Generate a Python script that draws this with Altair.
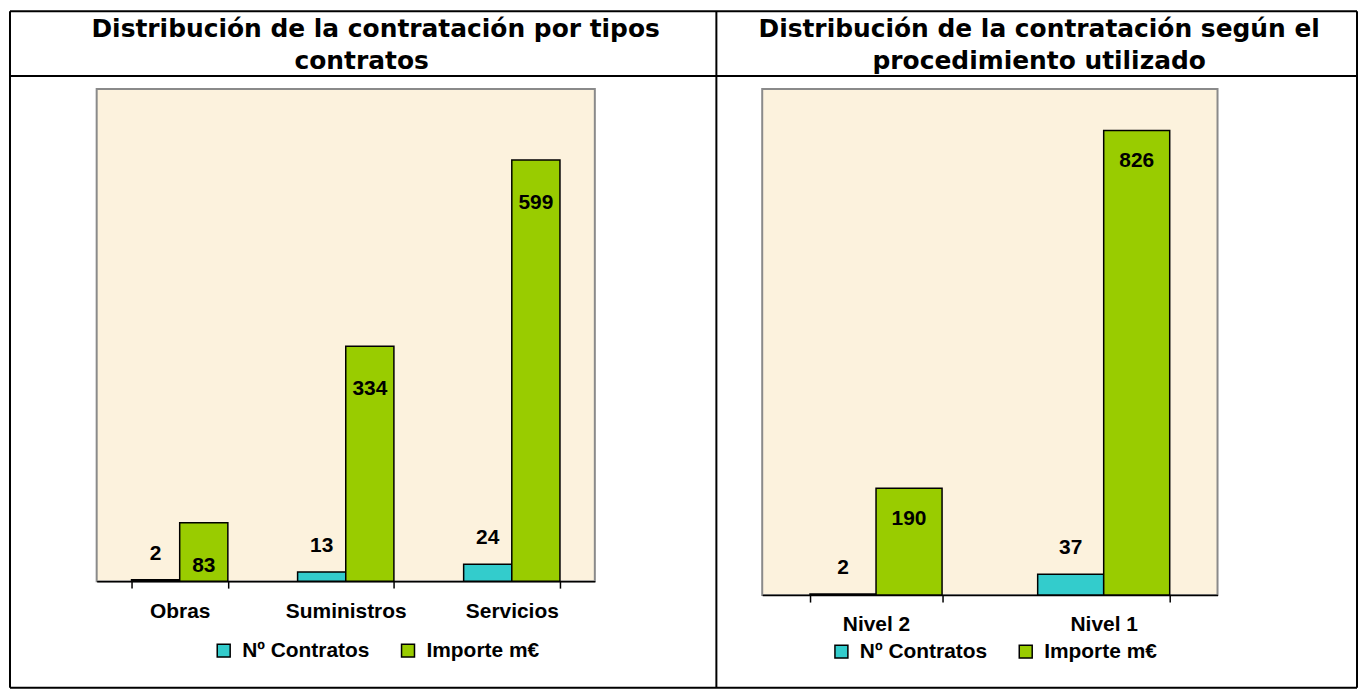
import altair as alt
import pandas as pd

# ---------------- data ----------------
tipos = ["Obras", "Suministros", "Servicios"]
tipos_num = [2, 13, 24]
tipos_imp = [83, 334, 599]

niveles = ["Nivel 2", "Nivel 1"]
niveles_num = [2, 37]
niveles_imp = [190, 826]

series = ["Nº Contratos", "Importe m€"]
colors = ["#33CCCC", "#99CC00"]

title_left = ["Distribución de la contratación por tipos", "contratos"]
title_right = ["Distribución de la contratación según  el", "procedimiento utilizado"]

LABEL_FONT = "Liberation Sans"
TITLE_FONT = "DejaVu Sans"
FS = 21


def long_df(cats, num, imp):
    rows = []
    for c, n, i in zip(cats, num, imp):
        rows.append({"cat": c, "serie": series[0], "valor": n})
        rows.append({"cat": c, "serie": series[1], "valor": i})
    return pd.DataFrame(rows)


def text_layer(txt, x, y):
    return alt.Chart(pd.DataFrame({"t": [txt]})).mark_text(
        font=TITLE_FONT, fontSize=25, fontWeight="bold", color="black",
        align="center", baseline="alphabetic"
    ).encode(x=alt.value(x), y=alt.value(y), text="t:N")


def rule_h(x1, x2, y):
    return alt.Chart(pd.DataFrame({"k": [0]})).mark_rule(color="black", strokeWidth=2).encode(
        x=alt.value(x1), x2=alt.value(x2), y=alt.value(y))


def rule_v(x, y1, y2):
    return alt.Chart(pd.DataFrame({"k": [0]})).mark_rule(color="black", strokeWidth=2).encode(
        x=alt.value(x), y=alt.value(y1), y2=alt.value(y2))


def panel(cats, num, imp, ymax, w, h, imp_dy, lx, ly, titles, tx):
    df = long_df(cats, num, imp)
    xenc = alt.X("cat:N", sort=cats,
                 scale=alt.Scale(paddingInner=0.42, paddingOuter=0.21),
                 axis=alt.Axis(title=None, labelAngle=0, tickBand="extent",
                               labelFont=LABEL_FONT, labelFontSize=FS, labelFontWeight="bold",
                               labelColor="black", tickColor="black", domainColor="black",
                               tickSize=7, labelPadding=12, domainWidth=1.5, tickWidth=1.5,
                               grid=False))
    yenc = alt.Y("valor:Q", scale=alt.Scale(domain=[0, ymax], nice=False, zero=True), axis=None)
    xo = alt.XOffset("serie:N", sort=series, scale=alt.Scale(paddingInner=0, paddingOuter=0))
    base = alt.Chart(df).encode(x=xenc, y=yenc, xOffset=xo)
    bars = base.mark_bar(stroke="black", strokeWidth=1.5).encode(
        color=alt.Color("serie:N", sort=series,
                        scale=alt.Scale(domain=series, range=colors),
                        legend=alt.Legend(title=None, orient="none", legendX=lx, legendY=ly,
                                          direction="horizontal", symbolType="square",
                                          symbolSize=169, symbolStrokeColor="black",
                                          symbolStrokeWidth=1.5, labelFont=LABEL_FONT,
                                          labelFontSize=FS, labelFontWeight="bold",
                                          labelColor="black", labelOffset=8,
                                          columnPadding=28, padding=0)))
    txt = dict(font=LABEL_FONT, fontSize=FS, fontWeight="bold", color="black",
               baseline="middle", align="center")
    lab_num = base.transform_filter(alt.datum.serie == series[0]).mark_text(dy=-26, **txt).encode(
        text="valor:Q")
    lab_imp = base.transform_filter(alt.datum.serie == series[1]).mark_text(dy=imp_dy, **txt).encode(
        text="valor:Q")
    t1 = text_layer(titles[0], tx[0], -52)
    t2 = text_layer(titles[1], tx[1], -20)
    return [bars, lab_num, lab_imp, t1, t2], (w, h)


layers_l, (wl, hl) = panel(tipos, tipos_num, tipos_imp, 700, 500, 494, 43, 117, 553, title_left, (280, 266))
layers_r, (wr, hr) = panel(niveles, niveles_num, niveles_imp, 900, 457, 508, 31, 69, 554, title_right, (278, 278))

# table lines (relative to left plot origin)
L, R, T, B, MID, SEP = -87, 1265, -78, 601, 622, -13
table = [rule_h(L, R, T), rule_h(L, R, B), rule_h(L, R, SEP),
         rule_v(L, T, B), rule_v(R, T, B), rule_v(MID, T, B)]

left = alt.layer(*table, *layers_l).properties(width=wl, height=hl)
right = alt.layer(*layers_r).properties(width=wr, height=hr)

chart = alt.hconcat(left, right, spacing=168, bounds="flush", padding=0).resolve_scale(
    x="independent", y="independent", color="independent", xOffset="independent"
).configure_view(fill="#FCF2DD", stroke="#8A8A8A", strokeWidth=2)

chart.save("out.html", embed_options={"renderer": "svg", "actions": False})
